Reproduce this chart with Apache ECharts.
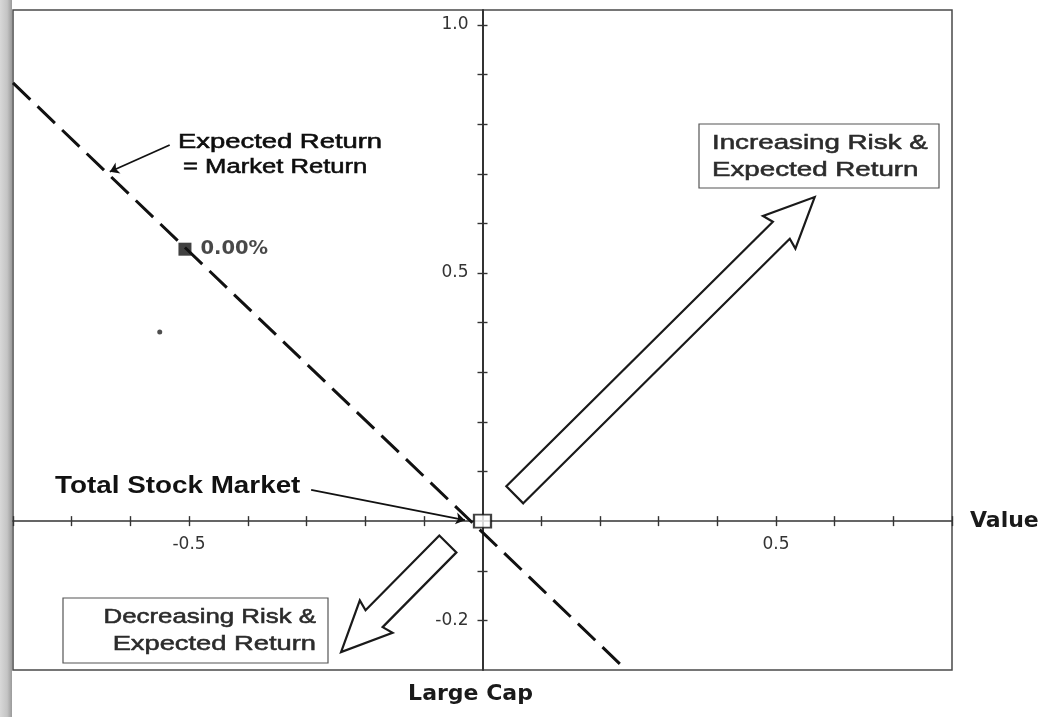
<!DOCTYPE html>
<html>
<head>
<meta charset="utf-8">
<script src="https://cdn.jsdelivr.net/npm/echarts@6/dist/echarts.min.js"></script>
<style>
html,body{margin:0;padding:0;background:#fff;}
#chart{width:1041px;height:717px;}
</style>
</head>
<body>
<div id="chart"></div>
<script>
// ---- data ----
const xRange = [-0.8, 0.8];
const yRange = [-0.3, 1.03];
const xTickValues = [-0.8, -0.7, -0.6, -0.5, -0.4, -0.3, -0.2, -0.1, 0.1, 0.2, 0.3, 0.4, 0.5, 0.6, 0.7, 0.8];
const xLabelValues = [-0.5, 0.5];
const yTickValues = [-0.2, -0.1, 0.1, 0.2, 0.3, 0.4, 0.5, 0.6, 0.7, 0.8, 0.9, 1.0];
const yLabelValues = [-0.2, 0.5, 1.0];
const xAxisName = 'Value';
const yAxisName = 'Large Cap';

// dashed "Expected Return = Market Return" line
const marketLineX = [-0.80, 0.245];
const marketLineY = [0.883, -0.300];

// labelled fund on the line
const fundPoint = [-0.507, 0.548];
const fundLabel = '0.00%';
// small stray dot
const strayPoint = [-0.550, 0.381];
// total stock market (origin)
const totalMarketPoint = [0, 0];

// hollow arrows: tail (x,y) -> tip (x,y)
const arrowTailX = [0.055, -0.059];
const arrowTailY = [0.053, -0.046];
const arrowTipX = [0.566, -0.241];
const arrowTipY = [0.653, -0.264];

// leader lines: from text -> target
const leaderFromX = [-0.533, -0.292];
const leaderFromY = [0.758, 0.063];
const leaderToX = [-0.635, -0.030];
const leaderToY = [0.704, 0.002];

// ---- layout ----
const W = 1041, H = 717;
const gridBox = {left: 13, right: 89, top: 10, bottom: 47};
const plotW = W - gridBox.left - gridBox.right;
const plotH = H - gridBox.top - gridBox.bottom;
// distance of the zero lines from the grid edges (axes cross at 0,0)
const zeroFromLeft = (0 - xRange[0]) / (xRange[1] - xRange[0]) * plotW;
const zeroFromBottom = (0 - yRange[0]) / (yRange[1] - yRange[0]) * plotH;

// ---- build ----
const arrowData = arrowTailX.map((x, i) => [x, arrowTailY[i], arrowTipX[i], arrowTipY[i]]);
const leaderData = leaderFromX.map((x, i) => ({coords: [[x, leaderFromY[i]], [leaderToX[i], leaderToY[i]]]}));

function renderArrow(params, api) {
  const p1 = api.coord([api.value(0), api.value(1)]);
  const p2 = api.coord([api.value(2), api.value(3)]);
  const dx = p2[0] - p1[0], dy = p2[1] - p1[1];
  const len = Math.sqrt(dx * dx + dy * dy);
  const ux = dx / len, uy = dy / len;
  const nx = -uy, ny = ux;
  const w = 12, hw = 23, hl = 47;
  const bx = p2[0] - ux * hl, by = p2[1] - uy * hl;
  const bx2 = p2[0] - ux * (hl + 3), by2 = p2[1] - uy * (hl + 3);
  const pts = [
    [p1[0] + nx * w, p1[1] + ny * w],
    [bx + nx * w, by + ny * w],
    [bx2 + nx * hw, by2 + ny * hw],
    [p2[0], p2[1]],
    [bx2 - nx * hw, by2 - ny * hw],
    [bx - nx * w, by - ny * w],
    [p1[0] - nx * w, p1[1] - ny * w]
  ];
  return {
    type: 'polygon',
    shape: {points: pts},
    style: {fill: '#ffffff', stroke: '#1a1a1a', lineWidth: 2.2, lineJoin: 'miter'}
  };
}

function txt(x, y, s, fs, sx, opt) {
  opt = opt || {};
  const col = opt.c || '#0d0d0d';
  return {
    type: 'text', x: x, y: y, scaleX: sx, z: 50,
    style: {
      text: s,
      fontFamily: 'Liberation Sans, Arial, sans-serif',
      fontSize: fs,
      fontWeight: opt.fw || 'normal',
      fill: col,
      stroke: opt.fw ? null : col,
      lineWidth: opt.fw ? 0 : 0.55,
      textAlign: opt.a || 'left', align: opt.a || 'left',
      textVerticalAlign: 'middle', verticalAlign: 'middle'
    }
  };
}

const axisLineStyle = {color: '#333', width: 1.6};
const tickStyle = {color: '#333', width: 1.4};

const labelFont = {fontFamily: 'DejaVu Sans, sans-serif', fontSize: 17, color: '#333'};
const nameFont = {fontFamily: 'DejaVu Sans, sans-serif', fontSize: 22, fontWeight: 'bold', color: '#1a1a1a'};

const chart = echarts.init(document.getElementById('chart'), null, {renderer: 'canvas'});

chart.setOption({
  animation: false,
  backgroundColor: '#ffffff',
  grid: {
    left: gridBox.left, right: gridBox.right, top: gridBox.top, bottom: gridBox.bottom,
    containLabel: false, outerBoundsMode: 'none',
    show: true, borderColor: '#4a4a4a', borderWidth: 1.5, backgroundColor: 'transparent'
  },
  xAxis: [
    {
      type: 'value', min: xRange[0], max: xRange[1], position: 'bottom',
      offset: -zeroFromBottom,
      name: xAxisName, nameLocation: 'end', nameGap: 18,
      nameTextStyle: Object.assign({}, nameFont, {padding: [10, 0, 0, 0], align: 'left', verticalAlign: 'middle'}),
      axisLine: {show: true, onZero: false, lineStyle: axisLineStyle},
      axisTick: {show: true, length: 5, lineStyle: tickStyle, customValues: xTickValues},
      axisLabel: Object.assign({show: true, margin: 15, customValues: xLabelValues,
        formatter: v => v.toFixed(1)}, labelFont),
      splitLine: {show: false}
    },
    {
      type: 'value', min: xRange[0], max: xRange[1], position: 'top',
      offset: -(plotH - zeroFromBottom),
      axisLine: {show: false, onZero: false},
      axisTick: {show: true, length: 5, lineStyle: tickStyle, customValues: xTickValues},
      axisLabel: {show: false},
      splitLine: {show: false}
    }
  ],
  yAxis: [
    {
      type: 'value', min: yRange[0], max: yRange[1], position: 'left',
      offset: -zeroFromLeft,
      name: yAxisName, nameLocation: 'start', nameGap: 13,
      nameTextStyle: Object.assign({}, nameFont, {padding: [0, 24, 0, 0]}),
      axisLine: {show: true, onZero: false, lineStyle: {color: '#333', width: 2}},
      axisTick: {show: true, length: 5, lineStyle: tickStyle, customValues: yTickValues},
      axisLabel: Object.assign({show: true, margin: 14, customValues: yLabelValues,
        formatter: v => v.toFixed(1)}, labelFont),
      splitLine: {show: false}
    },
    {
      type: 'value', min: yRange[0], max: yRange[1], position: 'right',
      offset: -(plotW - zeroFromLeft),
      axisLine: {show: false, onZero: false},
      axisTick: {show: true, length: 5, lineStyle: tickStyle, customValues: yTickValues},
      axisLabel: {show: false},
      splitLine: {show: false}
    }
  ],
  series: [
    {
      name: 'Expected Return = Market Return',
      type: 'line',
      data: marketLineX.map((x, i) => [x, marketLineY[i]]),
      symbol: 'none',
      lineStyle: {color: '#111', width: 3, type: [24, 10]},
      z: 3
    },
    {
      name: 'Risk arrows',
      type: 'custom',
      renderItem: renderArrow,
      data: arrowData,
      encode: {x: [0, 2], y: [1, 3]},
      z: 2
    },
    {
      name: 'Leaders',
      type: 'lines',
      coordinateSystem: 'cartesian2d',
      data: leaderData,
      symbol: ['none', 'arrow'],
      symbolSize: 9,
      lineStyle: {color: '#111', width: 1.8, opacity: 1},
      z: 4
    },
    {
      name: 'Fund',
      type: 'scatter',
      data: [fundPoint],
      symbol: 'rect',
      symbolSize: 13,
      itemStyle: {color: '#111'},
      label: {
        show: true, position: 'right', distance: 9,
        formatter: fundLabel,
        fontFamily: 'DejaVu Sans, sans-serif', fontSize: 19.5, fontWeight: 'bold', color: '#1a1a1a'
      },
      z: 6
    },
    {
      name: 'Stray',
      type: 'scatter',
      data: [strayPoint],
      symbol: 'circle',
      symbolSize: 5,
      itemStyle: {color: '#222'},
      z: 6
    },
    {
      name: 'Total Stock Market',
      type: 'scatter',
      data: [totalMarketPoint],
      symbol: 'rect',
      symbolSize: [17, 13],
      itemStyle: {color: '#ffffff', borderColor: '#111', borderWidth: 2},
      z: 7
    }
  ],
  graphic: [
    {
      type: 'rect', x: 0, y: 0, z: -10, silent: true,
      shape: {width: 12, height: 717},
      style: {fill: new echarts.graphic.LinearGradient(0, 0, 1, 0, [
        {offset: 0, color: '#d8d8d8'}, {offset: 0.6, color: '#c4c4c4'}, {offset: 1, color: '#9a9a9a'}
      ])}
    },
    txt(178, 142, 'Expected Return', 20, 1.37),
    txt(183, 167, '= Market Return', 20, 1.28),
    txt(55, 487, 'Total Stock Market', 23, 1.21, {fw: 'bold', c: '#111'}),
    {
      type: 'rect', x: 699, y: 124, z: 40,
      shape: {width: 240, height: 64},
      style: {fill: '#ffffff', stroke: '#555', lineWidth: 1.2}
    },
    txt(712, 143, 'Increasing Risk &', 21, 1.32, {c: '#2b2b2b'}),
    txt(712, 170, 'Expected Return', 21, 1.32, {c: '#2b2b2b'}),
    {
      type: 'rect', x: 63, y: 598, z: 40,
      shape: {width: 265, height: 65},
      style: {fill: '#ffffff', stroke: '#555', lineWidth: 1.2}
    },
    txt(316, 617, 'Decreasing Risk &', 21, 1.23, {c: '#2b2b2b', a: 'right'}),
    txt(316, 644, 'Expected Return', 21, 1.30, {c: '#2b2b2b', a: 'right'})
  ]
});
</script>
</body>
</html>
